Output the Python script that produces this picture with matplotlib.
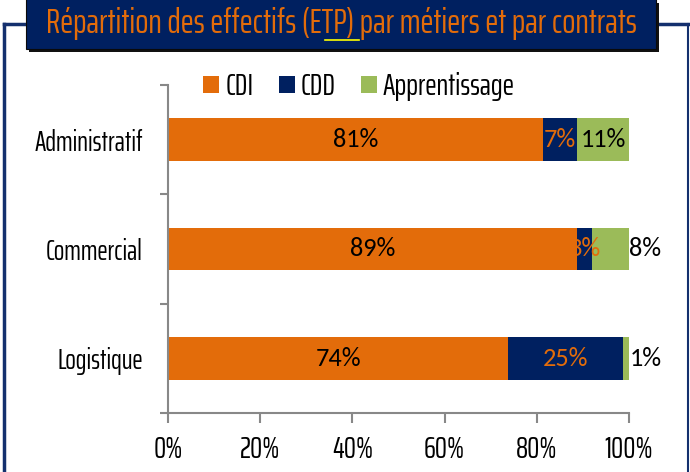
import matplotlib
matplotlib.use("Agg")
import matplotlib.pyplot as plt
from matplotlib.patches import Rectangle
from matplotlib.lines import Line2D
import numpy as np

categories = ["Administratif", "Commercial", "Logistique"]
cdi = [81.3, 88.7, 73.8]
cdd = [7.4, 3.3, 24.9]
apprentissage = [11.3, 8.0, 1.3]
series_names = ["CDI", "CDD", "Apprentissage"]
xticks = [0, 20, 40, 60, 80, 100]
xticklabels = ["0%", "20%", "40%", "60%", "80%", "100%"]
title = "Répartition des effectifs (ETP) par métiers et par contrats"

ORANGE = "#E36C0A"
NAVY = "#002060"
GREEN = "#9BBB59"
GRAY = "#888888"
NARROW = ["Saira ExtraCondensed", "DejaVu Sans"]
LABELF = ["Carlito", "DejaVu Sans"]

fig = plt.figure(figsize=(6.9, 4.72), dpi=100)
W, H = 690, 472

def fx(px):
    return px / W

def fy(py):
    return 1 - py / H

# outer border
BORDER = "#14306E"
fig.add_artist(Line2D([fx(4), fx(4)], [fy(24), 0], color=BORDER, lw=2.5, transform=fig.transFigure))
fig.add_artist(Line2D([fx(4), fx(688)], [fy(24), fy(24)], color=BORDER, lw=2.5, transform=fig.transFigure))
fig.add_artist(Line2D([fx(688), fx(688)], [fy(24), 0], color=BORDER, lw=1.5, transform=fig.transFigure))

# title banner with shadow
fig.add_artist(Rectangle((fx(29), fy(52)), fx(659) - fx(29), fy(3) - fy(52), transform=fig.transFigure,
                         facecolor="#111111", edgecolor="none", zorder=2))
fig.add_artist(Rectangle((fx(26), fy(49)), fx(656) - fx(26), fy(0) - fy(49) + 0.01, transform=fig.transFigure,
                         facecolor=NAVY, edgecolor="#0a0a0a", lw=0.8, zorder=3))
fig.text(fx(341), fy(33), title, color=ORANGE, family=NARROW, fontsize=25,
         ha="center", va="baseline", zorder=4)
fig.add_artist(Line2D([fx(325), fx(359)], [fy(40), fy(40)], color="#FFFF00", lw=1.2,
                      transform=fig.transFigure, zorder=5))

ax = fig.add_axes([fx(168), fy(413), fx(629) - fx(168), fy(85) - fy(413)])
y = np.arange(len(categories))
h = 0.39
left = np.zeros(len(categories))
colors = [ORANGE, NAVY, GREEN]
for vals, name, c in zip([cdi, cdd, apprentissage], series_names, colors):
    ax.barh(y, vals, left=left, height=h, color=c, label=name, zorder=2)
    left = left + np.array(vals)

ax.set_ylim(len(categories) - 0.5, -0.5)
ax.set_xlim(0, 100)

# data labels
FS = 19
for i in range(len(categories)):
    ax.text(cdi[i] / 2, y[i], f"{cdi[i]:.0f}%", ha="center", va="center", color="black",
            family=LABELF, fontsize=FS, zorder=3)
    ax.text(cdi[i] + cdd[i] / 2, y[i], f"{cdd[i]:.0f}%", ha="center", va="center", color=ORANGE,
            family=LABELF, fontsize=FS, zorder=3, clip_on=False)
    start = cdi[i] + cdd[i]
    end = start + apprentissage[i]
    if apprentissage[i] >= 10:
        ax.text(start + apprentissage[i] / 2, y[i], f"{apprentissage[i]:.0f}%", ha="center", va="center",
                color="black", family=LABELF, fontsize=FS, zorder=3)
    else:
        ax.text(end + 0.1, y[i], f"{apprentissage[i]:.0f}%", ha="left", va="center",
                color="black", family=LABELF, fontsize=FS, zorder=3, clip_on=False)

for s in ["top", "right"]:
    ax.spines[s].set_visible(False)
for s in ["left", "bottom"]:
    ax.spines[s].set_color(GRAY)
    ax.spines[s].set_linewidth(1.5)

ax.set_xticks(xticks)
ax.set_xticklabels(xticklabels, family=NARROW, fontsize=22)
ax.set_yticks(y)
ax.set_yticklabels(categories, family=NARROW, fontsize=20)
ax.tick_params(axis="y", length=0, pad=18)
ax.tick_params(axis="x", direction="out", length=7, width=1.5, color=GRAY, pad=9)
# category separators on y axis
for b in [-0.5, 0.5, 1.5, 2.5]:
    ax.plot([-0.0175, 0], [b, b], color=GRAY, lw=1.5, transform=ax.get_yaxis_transform(),
            clip_on=False, solid_capstyle="butt")

leg = ax.legend(loc="center", bbox_to_anchor=(0.4143, 0.995), ncol=3, frameon=False,
                prop={"family": NARROW, "size": 22}, handlelength=0.52, handleheight=0.5,
                columnspacing=0.82, handletextpad=0.2, borderaxespad=0, borderpad=0)

fig.savefig("out.png", dpi=100)
